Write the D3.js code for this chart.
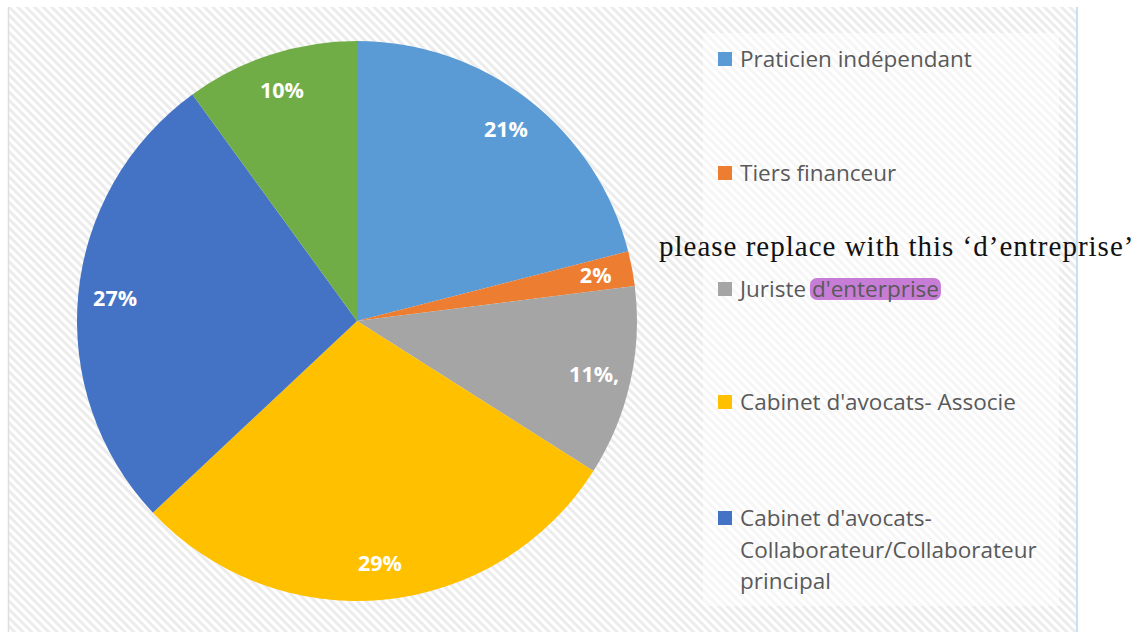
<!DOCTYPE html>
<html>
<head>
<meta charset="utf-8">
<script src="https://cdn.jsdelivr.net/npm/d3@7"></script>
<style>
  body { margin: 0; background: #fff; }
  svg { display: block; }
</style>
</head>
<body>
<svg id="chart" width="1141" height="632"></svg>
<script>
// data
const categories = [
  "Praticien indépendant",
  "Tiers financeur",
  "Juriste d'enterprise",
  "Cabinet d'avocats- Associe",
  "Cabinet d'avocats- Collaborateur/Collaborateur principal",
  "Autre"
];
const values = [21, 2, 11, 29, 27, 10];
const labels = ["21%", "2%", "11%,", "29%", "27%", "10%"];
const colors = ["#5B9BD5", "#ED7D31", "#A5A5A5", "#FFC000", "#4472C4", "#70AD47"];
// legend shows only the first five entries, the last one is cut off
const legendLines = [
  ["Praticien indépendant"],
  ["Tiers financeur"],
  ["Juriste ", "d'enterprise"],
  ["Cabinet d'avocats- Associe"],
  ["Cabinet d'avocats-", "Collaborateur/Collaborateur", "principal"]
];
const note = "please replace with this \u2018d\u2019entreprise\u2019";

const svg = d3.select("#chart");
const W = 1141, H = 632;

const defs = svg.append("defs");
const hatch = defs.append("pattern")
  .attr("id", "hatch").attr("patternUnits", "userSpaceOnUse")
  .attr("width", 6).attr("height", 6)
  .attr("patternTransform", "rotate(-45)");
hatch.append("rect").attr("width", 6).attr("height", 6).attr("fill", "#ffffff");
hatch.append("rect").attr("width", 3).attr("height", 6).attr("fill", "#ececec");

const hatchLight = defs.append("pattern")
  .attr("id", "hatchLight").attr("patternUnits", "userSpaceOnUse")
  .attr("width", 6).attr("height", 6)
  .attr("patternTransform", "rotate(-45)");
hatchLight.append("rect").attr("width", 6).attr("height", 6).attr("fill", "#ffffff");
hatchLight.append("rect").attr("width", 3).attr("height", 6).attr("fill", "#f6f6f6");

// chart area
svg.append("rect").attr("x", 8).attr("y", 7).attr("width", 1069).attr("height", H - 7)
  .attr("fill", "url(#hatch)");
svg.append("line").attr("x1", 8.5).attr("x2", 8.5).attr("y1", 7).attr("y2", H)
  .attr("stroke", "#dedede").attr("stroke-width", 1.5);
svg.append("line").attr("x1", 1077).attr("x2", 1077).attr("y1", 7).attr("y2", H)
  .attr("stroke", "#c7e0f4").attr("stroke-width", 2);

// pie
const cx = 357, cy = 321, R = 280;
const pie = d3.pie().sort(null).value(d => d);
const arcs = pie(values);
const arc = d3.arc().innerRadius(0).outerRadius(R);
const labelArc = d3.arc().innerRadius(243).outerRadius(243);

const font = "'Open Sans', Lato, sans-serif";

const g = svg.append("g").attr("transform", `translate(${cx},${cy})`);
g.selectAll("path.slice").data(arcs).join("path")
  .attr("class", "slice")
  .attr("d", arc)
  .attr("fill", (d, i) => colors[i]);

g.selectAll("text.lbl").data(arcs).join("text")
  .attr("class", "lbl")
  .attr("transform", d => `translate(${labelArc.centroid(d)})`)
  .attr("text-anchor", "middle")
  .attr("dy", "0.36em")
  .attr("fill", "#fff")
  .attr("font-family", font)
  .attr("font-weight", "bold")
  .attr("font-size", 21.5)
  .text((d, i) => labels[i]);

// legend
const lg = svg.append("g");
lg.append("rect").attr("x", 703).attr("y", 33).attr("width", 356).attr("height", 573)
  .attr("fill", "url(#hatchLight)");

const rowY = [59, 173, 289, 402, 518];
const lineH = 31.5;
const fs = 22.5;

legendLines.forEach((lines, i) => {
  lg.append("rect").attr("x", 718).attr("y", rowY[i] - 7).attr("width", 14).attr("height", 14)
    .attr("fill", colors[i]);
  if (i === 2) {
    const t = lg.append("text").attr("x", 740).attr("y", rowY[i]).attr("dy", "0.36em")
      .attr("font-family", font).attr("font-size", fs).attr("fill", "#595959");
    t.append("tspan").text(lines[0]);
    t.append("tspan").text(lines[1]);
    const start = t.node().getSubStringLength(0, lines[0].length);
    const w = t.node().getSubStringLength(lines[0].length, lines[1].length);
    lg.insert("rect", "text").attr("x", 740 + start - 2).attr("y", rowY[i] - 11)
      .attr("width", w + 4).attr("height", 22).attr("rx", 7)
      .attr("fill", "#C77DD6");
  } else {
    lines.forEach((ln, j) => {
      lg.append("text").attr("x", 740).attr("y", rowY[i] + j * lineH).attr("dy", "0.36em")
        .attr("font-family", font).attr("font-size", fs).attr("fill", "#595959")
        .text(ln);
    });
  }
});

// reviewer note
svg.append("text").attr("x", 659).attr("y", 247).attr("dy", "0.32em")
  .attr("font-family", "'Liberation Serif', 'DejaVu Serif', serif")
  .attr("font-size", 29).attr("letter-spacing", 1).attr("fill", "#111")
  .text(note);
</script>
</body>
</html>
